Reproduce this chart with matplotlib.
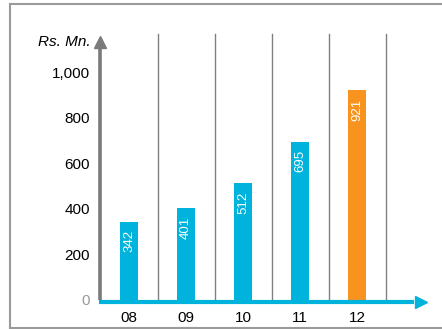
import matplotlib.pyplot as plt
from matplotlib.lines import Line2D

years = ["08", "09", "10", "11", "12"]
values = [342, 401, 512, 695, 921]
bar_colors = ["#00b3dc", "#00b3dc", "#00b3dc", "#00b3dc", "#f7931e"]
yticks = [0, 200, 400, 600, 800, 1000]
ytick_labels = ["0", "200", "400", "600", "800", "1,000"]

plt.rcParams['font.family'] = ['Liberation Sans', 'DejaVu Sans']

fig = plt.figure(figsize=(4.42, 3.29), dpi=100)
ax = fig.add_axes([100.5/442, 29.5/329, 326.5/442, 263.5/329])
ax.set_xlim(-0.5, 5.228)
ax.set_ylim(0, 1161)
for s in ax.spines.values():
    s.set_visible(False)

x = list(range(len(years)))

# vertical separators between the years
for i in range(len(years)):
    ax.plot([i + 0.5, i + 0.5], [0, 1170], color="#808080", lw=1, clip_on=False, zorder=1)

ax.bar(x, values, width=0.333, color=bar_colors, zorder=2)

for xi, v in zip(x, values):
    ax.annotate(str(v), xy=(xi, v), xytext=(0, -6), textcoords="offset points",
                rotation=90, ha="center", va="top", color="white", fontsize=9.5, zorder=3)

# y axis arrow
ax.plot([-0.5, -0.5], [0, 1120], color="#7a7a7a", lw=2.6, clip_on=False, zorder=3,
        solid_capstyle="butt")
ax.plot([-0.5], [1136], marker="^", markersize=8, color="#7a7a7a", clip_on=False, zorder=3)

# x axis arrow
ax.plot([-0.53, 5.0], [-11, -11], color="#00b3dc", lw=3, clip_on=False, zorder=4,
        solid_capstyle="butt")
ax.plot([5.114], [-11], marker=">", markersize=8.6, color="#00b3dc", clip_on=False, zorder=4)

ax.set_yticks(yticks)
ax.set_yticklabels(ytick_labels, fontsize=11)
ax.set_xticks(x)
ax.set_xticklabels(years, fontsize=11)
ax.tick_params(axis="y", length=0, pad=7.5)
ax.tick_params(axis="x", length=0, pad=8)
ax.get_yticklabels()[0].set_color("#999999")

ax.annotate("Rs. Mn.", xy=(-0.5, 1136), xytext=(-7, 0), textcoords="offset points",
            ha="right", va="center", fontsize=11, style="italic")

# frame around the chart (open on the right)
frame = dict(color="#9a9a9a", lw=1.5, transform=fig.transFigure)
fig.add_artist(Line2D([10/442, 1], [1 - 4/329, 1 - 4/329], **frame))
fig.add_artist(Line2D([10/442, 10/442], [1 - 4/329, 1 - 327.5/329], **frame))
fig.add_artist(Line2D([10/442, 1], [1 - 327.5/329, 1 - 327.5/329], **frame))

fig.savefig("out.png", dpi=100)
